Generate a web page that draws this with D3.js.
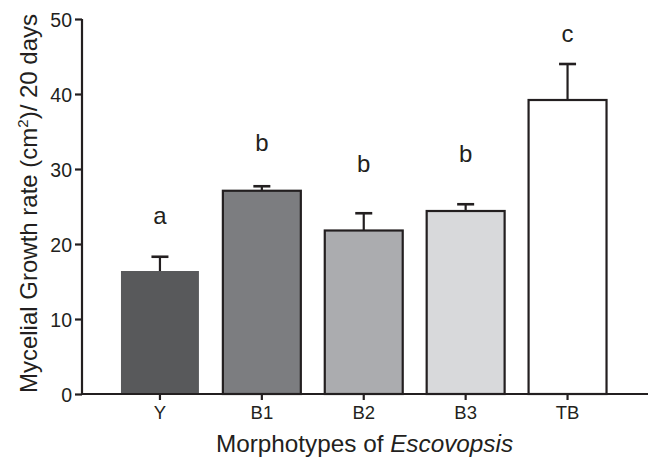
<!DOCTYPE html>
<html><head><meta charset="utf-8">
<script src="https://cdn.jsdelivr.net/npm/d3@7"></script>
<style>body{margin:0;background:#fff}svg{display:block}text{font-family:"Liberation Sans",Arial,sans-serif;fill:#231f20}</style>
</head><body>
<script>
const categories = ["Y","B1","B2","B3","TB"];
const means = [16.4, 27.1, 21.8, 24.4, 39.2];
const errTops = [18.3, 27.7, 24.1, 25.3, 44.0];
const letters = ["a","b","b","b","c"];
const letterPos = [22.7, 32.4, 29.6, 31.0, 46.9];
const fills = ["#58595b","#7c7d80","#abacaf","#d8d9db","#ffffff"];
const outlined = [false, true, true, true, true];
const yTicks = [0,10,20,30,40,50];

const W = 651, H = 457;
const ink = "#231f20";
const svg = d3.select("body").append("svg").attr("width", W).attr("height", H);

const x = d3.scaleBand().domain(categories).range([109, 618.5]).paddingInner(0.235).paddingOuter(0.1175);
const y = d3.scaleLinear().domain([0, 50]).range([394, 19]);

// bars
svg.selectAll("rect.bar").data(categories).enter().append("rect")
  .attr("x", d => x(d)).attr("width", x.bandwidth())
  .attr("y", (d,i) => y(means[i])).attr("height", (d,i) => y(0) - y(means[i]))
  .attr("fill", (d,i) => fills[i])
  .attr("stroke", (d,i) => outlined[i] ? ink : "none").attr("stroke-width", 2.2);

// error bars
const eb = svg.append("g").attr("stroke", ink).attr("stroke-width", 2.2);
categories.forEach((c,i) => {
  const cx = x(c) + x.bandwidth()/2;
  eb.append("line").attr("x1", cx).attr("x2", cx).attr("y1", y(means[i])).attr("y2", y(errTops[i]));
  eb.append("line").attr("x1", cx-8.5).attr("x2", cx+8.5).attr("y1", y(errTops[i])).attr("y2", y(errTops[i])).attr("stroke-width", 2.6);
});

// significance letters
svg.selectAll("text.sig").data(categories).enter().append("text")
  .attr("x", d => x(d) + x.bandwidth()/2).attr("y", (d,i) => y(letterPos[i]))
  .attr("text-anchor", "middle").style("font-size", "24px").text((d,i) => letters[i]);

// y axis
const ya = svg.append("g").attr("transform", "translate(82,0)")
  .call(d3.axisLeft(y).tickValues(yTicks).tickSize(7).tickPadding(3));
ya.select(".domain").attr("stroke", ink).attr("stroke-width", 2.2).attr("d", `M0,${y(50)}V${y(0)}`);
ya.selectAll(".tick line").attr("stroke", ink).attr("stroke-width", 2.2);
ya.selectAll(".tick text").style("font-size", "19.5px").attr("fill", ink).attr("dy", "0.36em");

// x axis
const xa = svg.append("g").attr("transform", "translate(0,394)")
  .call(d3.axisBottom(x).tickSize(6).tickPadding(6));
xa.select(".domain").attr("stroke", ink).attr("stroke-width", 2.2).attr("d", "M81,0H648");
xa.selectAll(".tick line").attr("stroke", ink).attr("stroke-width", 2.2);
xa.selectAll(".tick text").style("font-size", "18.5px").attr("fill", ink).attr("dy", "0.71em");

// axis titles
const xt = svg.append("text").attr("x", 364.5).attr("y", 452).attr("text-anchor", "middle").style("font-size", "24.3px");
xt.append("tspan").text("Morphotypes of ");
xt.append("tspan").style("font-style", "italic").text("Escovopsis");

const yt = svg.append("text").attr("transform", "translate(36.5,203.5) rotate(-90)").attr("text-anchor", "middle").style("font-size", "24px");
yt.append("tspan").text("Mycelial Growth rate (cm");
yt.append("tspan").style("font-size", "15px").attr("dy", "-9").text("2");
yt.append("tspan").attr("dy", "9").text(")/ 20 days");
</script>
</body></html>
